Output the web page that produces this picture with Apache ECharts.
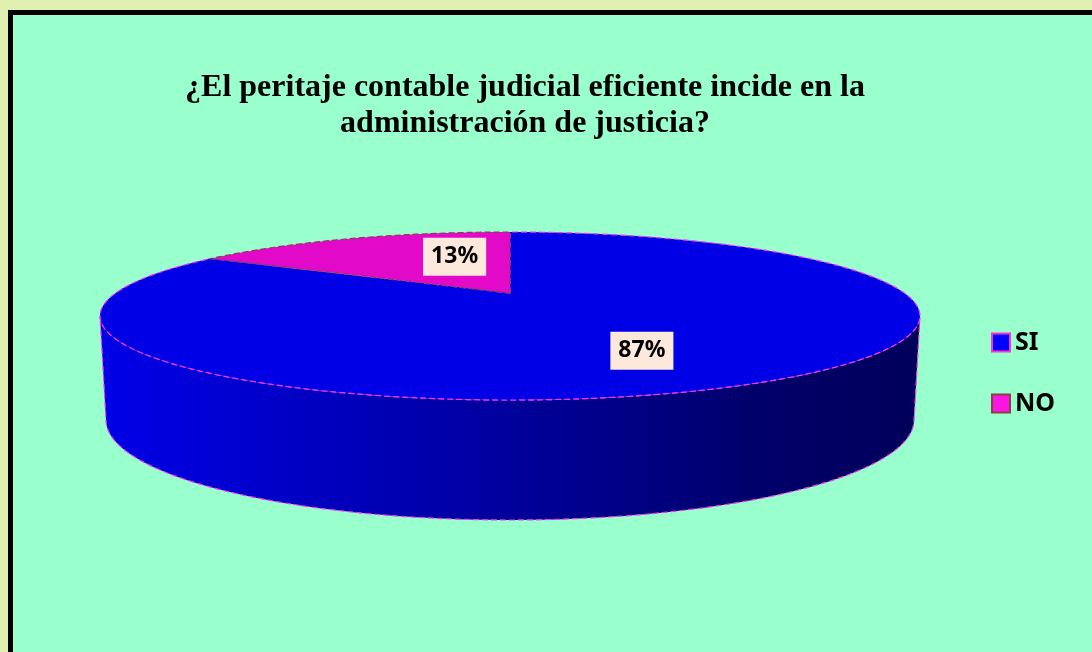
<!DOCTYPE html>
<html>
<head>
<meta charset="utf-8">
<script src="https://cdn.jsdelivr.net/npm/echarts@6/dist/echarts.min.js"></script>
<style>
	html, body { margin: 0; padding: 0; background: #dff0b0; }
	#chart { width: 1092px; height: 652px; }
</style>
</head>
<body>
<div id="chart"></div>
<script>
	// data
	const categories = ['SI', 'NO'];
	const values = [87, 13];
	const percentLabels = ['87%', '13%'];
	const titleText = '¿El peritaje contable judicial eficiente incide en la\nadministración de justicia?';

	// styles
	const topColors = ['#0000e6', '#e20ac8'];
	const edgeColors = ['#ff33ee', '#8e3a55'];
	const legendFill = ['#0000ff', '#ff14e6'];
	const legendBorder = ['#ff33cc', '#8b4040'];
	// where the % boxes sit, as fractions of rx / ry along the slice's mid angle
	const labelFactor = [[0.81, 0.45], [0.34, 0.77]];

	// pie geometry (pixels): top face ellipse, bottom rim ellipse
	const cx = 510, cyTop = 316, rx = 410, ry = 84, apexY = 293;
	const cyBot = 420, rxBot = 404, ryBot = 100;

	const chart = echarts.init(document.getElementById('chart'), null, { width: 1092, height: 652 });

	const total = values.reduce((a, b) => a + b, 0);
	// slices start at 12 o'clock and run clockwise
	let start = 90;
	const angles = values.map(function (v) {
		const a0 = start;
		const a1 = start - v / total * 360;
		start = a1;
		return [a0, a1, v];
	});

	const rad = Math.PI / 180;
	function topPt(a) {
		return [cx + rx * Math.cos(a * rad), cyTop - ry * Math.sin(a * rad)];
	}
	function botPt(a) {
		return [cx + rxBot * Math.cos(a * rad), cyBot - ryBot * Math.sin(a * rad)];
	}
	function arc(fn, from, to) {
		const pts = [];
		const n = Math.max(2, Math.ceil(Math.abs(to - from) / 1.5));
		for (let i = 0; i <= n; i++) {
			pts.push(fn(from + (to - from) * i / n));
		}
		return pts;
	}

	const sideGradient = new echarts.graphic.LinearGradient(cx - rx, 0, cx + rx, 0, [
		{ offset: 0, color: '#0000e8' },
		{ offset: 0.45, color: '#0000a4' },
		{ offset: 0.8, color: '#00006a' },
		{ offset: 1, color: '#00005a' }
	], true);

	function makeRender(idx) {
		return function (params, api) {
			const a0 = api.value(0), a1 = api.value(1);
			const children = [];
			// visible side wall: the part of the slice in the front half
			[-1, 0, 1].forEach(function (k) {
				const lo = Math.max(a1, -180 + 360 * k);
				const hi = Math.min(a0, 360 * k);
				if (hi > lo) {
					const pts = arc(topPt, lo, hi).concat(arc(botPt, hi, lo));
					children.push({
						type: 'polygon',
						shape: { points: pts },
						style: { fill: sideGradient, stroke: edgeColors[idx], lineWidth: 1.2, lineDash: [6, 3] },
						z2: 1
					});
				}
			});
			// top face
			const topPts = [[cx, apexY]].concat(arc(topPt, a0, a1));
			children.push({
				type: 'polygon',
				shape: { points: topPts },
				style: { fill: topColors[idx], stroke: edgeColors[idx], lineWidth: 1.2, lineDash: [6, 3] },
				z2: 2
			});
			// percentage box
			const mid = (a0 + a1) / 2;
			children.push({
				type: 'text',
				x: cx + rx * labelFactor[idx][0] * Math.cos(mid * rad),
				y: cyTop - ry * labelFactor[idx][1] * Math.sin(mid * rad),
				style: {
					text: percentLabels[idx],
					fill: '#000',
					font: 'bold 23px "Noto Sans"',
					align: 'center',
					verticalAlign: 'middle',
					backgroundColor: '#fde9dc',
					padding: [8, 8, 7, 8]
				},
				z2: 5
			});
			return { type: 'group', children: children };
		};
	}

	option = {
		backgroundColor: '#dff0b0',
		animation: false,
		graphic: [{
			type: 'rect',
			shape: { x: 10.5, y: 12.5, width: 1200, height: 800 },
			style: { fill: '#99ffcc', stroke: '#000', lineWidth: 5 },
			z: -10
		}],
		title: {
			text: titleText,
			left: 520,
			top: 65,
			textAlign: 'center',
			textStyle: {
				fontFamily: '"Liberation Serif"',
				fontWeight: 'bold',
				fontSize: 32,
				lineHeight: 36,
				color: '#000'
			}
		},
		legend: {
			orient: 'vertical',
			left: 986,
			top: 325,
			icon: 'rect',
			itemWidth: 18,
			itemHeight: 18,
			itemGap: 36,
			textStyle: {
				fontFamily: '"Noto Sans"',
				fontWeight: 'bold',
				fontSize: 25,
				color: '#000'
			},
			data: categories.map(function (c, i) {
				return { name: c, itemStyle: { color: legendFill[i], borderColor: legendBorder[i], borderWidth: 2 } };
			})
		},
		series: categories.map(function (c, i) {
			return {
				name: c,
				type: 'custom',
				coordinateSystem: 'none',
				z: 2 + i,
				itemStyle: { color: legendFill[i] },
				renderItem: makeRender(i),
				data: [angles[i]]
			};
		})
	};

	chart.setOption(option);
</script>
</body>
</html>
